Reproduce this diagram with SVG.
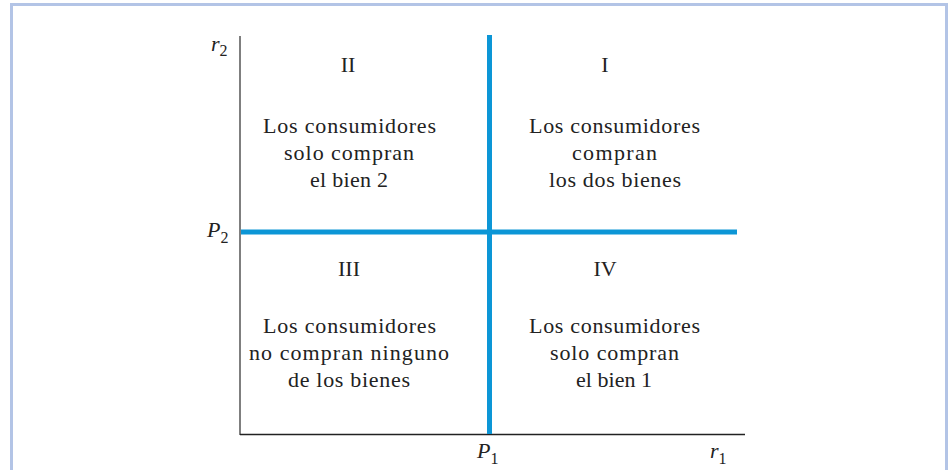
<svg xmlns="http://www.w3.org/2000/svg" width="949" height="470" viewBox="0 0 949 470">
<style>
.t{font-family:"Liberation Serif","DejaVu Serif",serif;font-size:22px;fill:#222;text-anchor:middle}
.v{font-family:"Liberation Serif","DejaVu Serif",serif;font-size:22px;font-style:italic;fill:#222}
.s{font-family:"Liberation Serif","DejaVu Serif",serif;font-size:16px;fill:#222}
.blue{stroke:#0c96d6;stroke-width:5;fill:none}
</style>
<rect x="0" y="0" width="949" height="470" fill="#fff"/>
<path d="M11.5 470 V4.5 H946.5 V470" fill="none" stroke="#b3c4e6" stroke-width="3"/>
<g id="axes">
<line x1="240" y1="36" x2="240" y2="435" stroke="#555" stroke-width="1.5"/>
<line x1="240" y1="434.5" x2="745" y2="434.5" stroke="#222" stroke-width="1.5"/>
</g>
<g id="connectors">
<line class="blue" x1="489.5" y1="35" x2="489.5" y2="434"/>
<line class="blue" x1="241" y1="232" x2="737" y2="232"/>
</g>
<g id="labels">
<text class="v" x="211" y="51">r<tspan class="s" font-style="normal" dy="5">2</tspan></text>
<text class="v" x="207" y="237">P<tspan class="s" font-style="normal" dy="6">2</tspan></text>
<text class="v" x="477" y="458">P<tspan class="s" font-style="normal" dy="6">1</tspan></text>
<text class="v" x="710" y="458">r<tspan class="s" font-style="normal" dy="6">1</tspan></text>
</g>
<g id="q2">
<text class="t" x="348" y="72">II</text>
<text class="t" x="349.5" y="133" textLength="173" lengthAdjust="spacing">Los consumidores</text>
<text class="t" x="349" y="160" textLength="130" lengthAdjust="spacing">solo compran</text>
<text class="t" x="349" y="187" textLength="78" lengthAdjust="spacing">el bien 2</text>
</g>
<g id="q1">
<text class="t" x="605" y="72">I</text>
<text class="t" x="614.5" y="133" textLength="171" lengthAdjust="spacing">Los consumidores</text>
<text class="t" x="614.5" y="160" textLength="85" lengthAdjust="spacing">compran</text>
<text class="t" x="615" y="187" textLength="132" lengthAdjust="spacing">los dos bienes</text>
</g>
<g id="q3">
<text class="t" x="349" y="276">III</text>
<text class="t" x="349.5" y="333" textLength="173" lengthAdjust="spacing">Los consumidores</text>
<text class="t" x="349" y="360" textLength="200" lengthAdjust="spacing">no compran ninguno</text>
<text class="t" x="349" y="387" textLength="122" lengthAdjust="spacing">de los bienes</text>
</g>
<g id="q4">
<text class="t" x="605" y="276">IV</text>
<text class="t" x="614.5" y="333" textLength="171" lengthAdjust="spacing">Los consumidores</text>
<text class="t" x="614.5" y="360" textLength="129" lengthAdjust="spacing">solo compran</text>
<text class="t" x="614" y="387" textLength="76" lengthAdjust="spacing">el bien 1</text>
</g>
</svg>
